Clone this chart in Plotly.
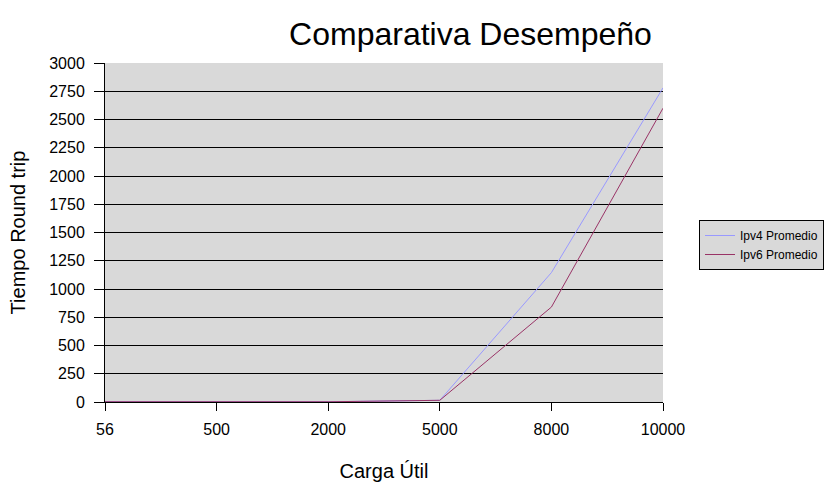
import plotly.graph_objects as go

categories = ["56", "500", "2000", "5000", "8000", "10000"]
ipv4 = [2, 2, 2, 15, 1145, 2780]
ipv6 = [2, 2, 2, 15, 840, 2600]
y_ticks = list(range(0, 3001, 250))

fig = go.Figure()
fig.add_trace(go.Scatter(x=categories, y=ipv4, mode="lines", name="Ipv4 Promedio",
                         line=dict(color="#9999FF", width=1)))
fig.add_trace(go.Scatter(x=categories, y=ipv6, mode="lines", name="Ipv6 Promedio",
                         line=dict(color="#993366", width=1)))

fig.update_layout(
    width=825, height=482,
    margin=dict(l=105, r=162, t=63, b=80),
    paper_bgcolor="white",
    plot_bgcolor="#D9D9D9",
    font=dict(family="Liberation Sans, Arial, sans-serif", color="black"),
    title=dict(text="Comparativa Desempeño", x=0.655, xref="paper", xanchor="center",
               y=0.93, yref="container", yanchor="middle", automargin=False,
               font=dict(size=32, color="black")),
    showlegend=True,
    legend=dict(x=699 / 825, y=1 - 220 / 482, xref="container", yref="container",
                xanchor="left", yanchor="top",
                bgcolor="#D9D9D9", bordercolor="black", borderwidth=1,
                font=dict(size=12), tracegroupgap=0, itemwidth=30),
    xaxis=dict(type="category", categoryorder="array", categoryarray=categories,
               range=[0, 5], showgrid=False, zeroline=False, automargin=False,
               showline=True, linecolor="black", linewidth=1,
               ticks="outside", ticklen=8, tickcolor="black",
               tickfont=dict(size=16), ticklabelstandoff=5,
               title=dict(text="Carga Útil", font=dict(size=20), standoff=30)),
    yaxis=dict(range=[0, 3000], tickvals=y_ticks, showgrid=True, gridcolor="black",
               gridwidth=1, zeroline=False, automargin=False,
               showline=True, linecolor="black", linewidth=1,
               ticks="outside", ticklen=10, tickcolor="black",
               tickfont=dict(size=16), ticklabelstandoff=6,
               title=dict(text="Tiempo Round trip", font=dict(size=20), standoff=18)),
)

fig.write_html("out.html", config={"displayModeBar": False},
               post_script="document.body.style.margin='0';document.body.style.overflow='hidden';")
